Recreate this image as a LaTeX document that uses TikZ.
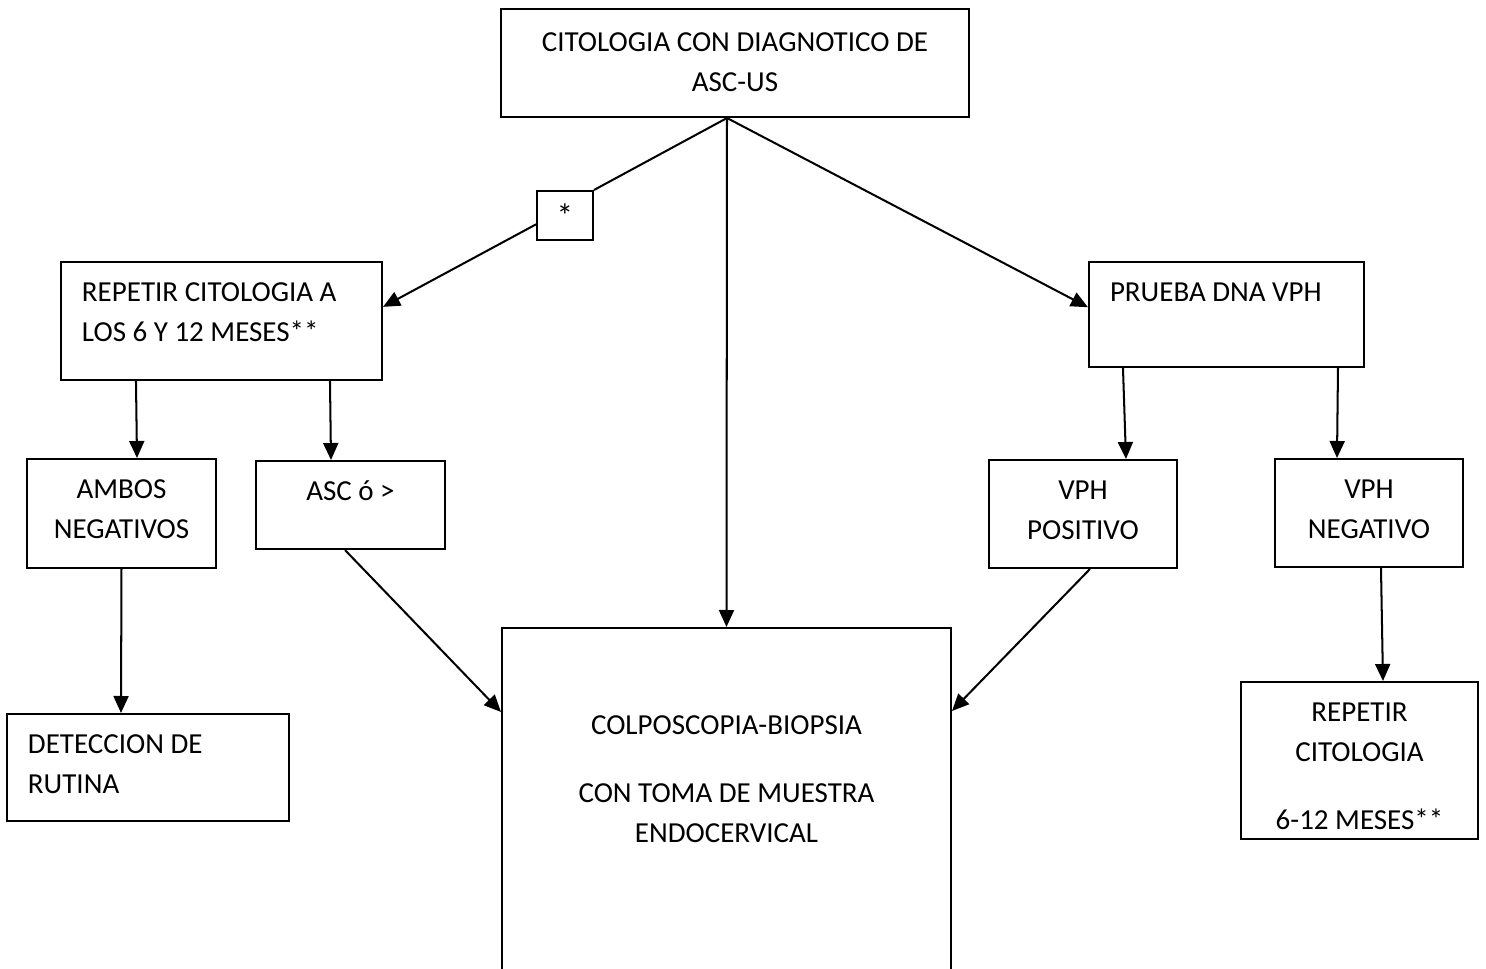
\documentclass[tikz,border=0pt]{standalone}
\usepackage{fontspec}
\setmainfont{Carlito}
\usetikzlibrary{arrows.meta,positioning}
\tikzset{
  box/.style={draw, inner xsep=0pt, inner ysep=0pt, text height=0.79cm, align=flush center,
    font=\fontsize{16.5}{23}\selectfont},
  lbox/.style={box, inner xsep=0.42cm, align=flush left},
  starbox/.style={draw, minimum width=1.12cm, minimum height=0.98cm, inner sep=0pt,
    font=\fontsize{19}{22}\selectfont},
}
\begin{document}
\begin{tikzpicture}[>={Triangle[length=0.34cm,width=0.3cm]}, line width=1.15pt]
  \useasboundingbox (-14.70,1.26) rectangle (15.02,-18.10);
  \clip (-14.70,1.26) rectangle (15.02,-18.10);
  \node (top) [box, text width=9.36cm, text height=0.84cm, text depth=1.32cm] {CITOLOGIA CON DIAGNOTICO DE\\ASC-US};
  \node (star) [starbox, below of=top, node distance=3.05cm, xshift=-3.40cm] {*};
  \node (rep) [lbox, below of=top, node distance=5.16cm, xshift=-10.27cm, text width=5.58cm, text depth=1.57cm] {REPETIR CITOLOGIA A\\LOS 6 Y 12 MESES**};
  \node (prueba) [lbox, below of=top, node distance=5.03cm, xshift=9.83cm, text width=4.66cm, text depth=1.31cm] {PRUEBA DNA VPH};
  \node (ambos) [box, below of=rep, node distance=3.85cm, xshift=-2.00cm, text width=3.78cm, text depth=1.39cm] {AMBOS\\NEGATIVOS};
  \node (asc) [box, below of=rep, node distance=3.68cm, xshift=2.58cm, text width=3.78cm, text depth=0.97cm] {ASC ó >};
  \node (vpos) [box, below of=prueba, node distance=3.99cm, xshift=-2.87cm, text width=3.76cm, text depth=1.37cm] {VPH\\POSITIVO};
  \node (vneg) [box, below of=prueba, node distance=3.97cm, xshift=2.85cm, text width=3.76cm, text depth=1.37cm] {VPH\\NEGATIVO};
  \node (detec) [lbox, below of=ambos, node distance=5.08cm, xshift=0.53cm, text width=4.80cm, text depth=1.35cm] {DETECCION DE\\RUTINA};
  \node (colpo) [box, below of=top, node distance=15.02cm, xshift=-0.17cm, text width=8.98cm, text height=2.12cm, text depth=5.32cm] {COLPOSCOPIA-BIOPSIA\\[0.56cm]CON TOMA DE MUESTRA\\ENDOCERVICAL};
  \node (repcit) [box, below of=vneg, node distance=4.95cm, xshift=-0.19cm, text width=4.74cm, text depth=2.35cm] {REPETIR\\CITOLOGIA\\[0.54cm]6-12 MESES**};
  \coordinate (fork) at ([xshift=-0.16cm]top.south);
  \draw (fork) -- (star.north east);
  \path[->] (star.197) edge (rep.5)
            (fork) edge (colpo.north)
            (fork) edge (prueba.177)
            ([xshift=1.52cm]rep.south west) edge ([xshift=0.31cm]ambos.north)
            ([xshift=5.40cm]rep.south west) edge ([xshift=-0.39cm]asc.north)
            (ambos.south) edge ([xshift=-0.54cm]detec.north)
            ([xshift=-0.11cm]asc.south) edge ([yshift=-1.70cm]colpo.north west)
            ([xshift=0.70cm]prueba.south west) edge ([xshift=0.86cm]vpos.north)
            ([xshift=-0.54cm]prueba.south east) edge ([xshift=-0.64cm]vneg.north)
            ([xshift=0.14cm]vpos.south) edge ([yshift=-1.68cm]colpo.north east)
            ([xshift=0.24cm]vneg.south) edge ([xshift=0.47cm]repcit.north)
            ;
\end{tikzpicture}
\end{document}
